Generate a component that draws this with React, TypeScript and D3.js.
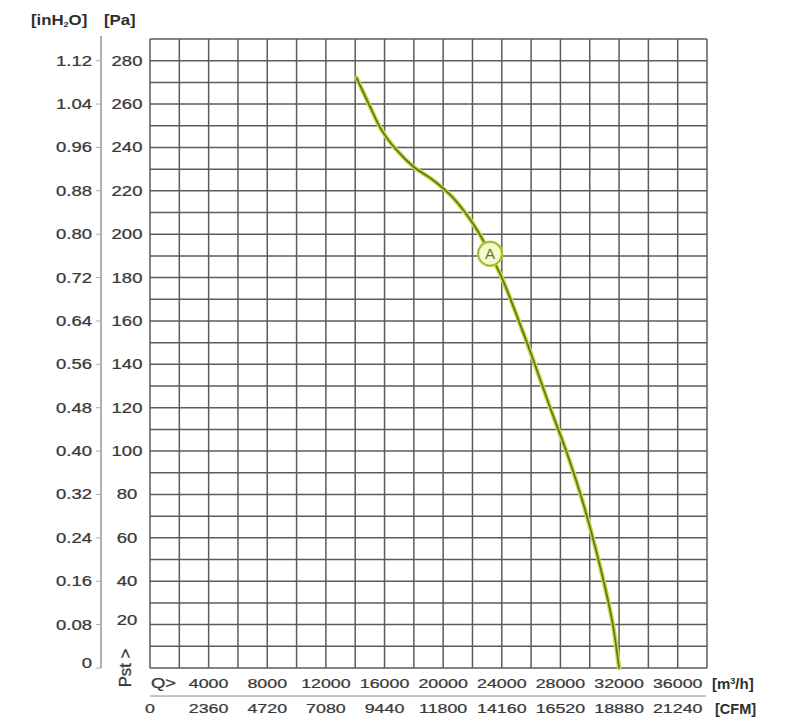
import React from "react";
import * as d3 from "d3";

// fan curve: Q [m3/h] vs Pst [Pa]
const flowQ = [14100, 15000, 15800, 16800, 18000, 19300, 20500, 21500, 22400, 23200, 24000, 25050, 26150, 27300, 28450, 29550, 30700, 31550, 32000];
const pressure = [272, 259, 248, 239, 231, 225, 218, 210, 201, 191, 180, 162, 142, 120, 99, 76, 47, 21, 0];

const pointA = { q: 23200, p: 191, label: "A" };

const qTicks = [4000, 8000, 12000, 16000, 20000, 24000, 28000, 32000, 36000];
const cfmTicks = ["0", "2360", "4720", "7080", "9440", "11800", "14160", "16520", "18880", "21240"];
const paTicks = [280, 260, 240, 220, 200, 180, 160, 140, 120, 100, 80, 60, 40, 20];
const inH2OTicks = ["1.12", "1.04", "0.96", "0.88", "0.80", "0.72", "0.64", "0.56", "0.48", "0.40", "0.32", "0.24", "0.16", "0.08", "0"];

const W = 794;
const H = 723;
const font = "'Liberation Sans', Arial, sans-serif";
const txt = "#383838";
const SX = 1.32; // the scan's lettering is wide

// wide label: stretch glyphs horizontally around its anchor
function T(props: { x: number; y: number; anchor?: string; size?: number; children: React.ReactNode }) {
  const { x, y, anchor = "start", size = 14, children } = props;
  return (
    <text
      transform={`translate(${x},${y}) scale(${SX},1)`}
      fontSize={size}
      textAnchor={anchor}
      fill={txt}
      stroke={txt}
      strokeWidth={0.25}
    >
      {children}
    </text>
  );
}

export default function App() {
  const x = d3.scaleLinear().domain([0, 38000]).range([150, 707]);
  const y = d3.scaleLinear().domain([0, 290]).range([668, 39]);

  const vGrid = d3.range(0, 38001, 2000);
  const hGrid = d3.range(0, 291, 10);

  const pts: [number, number][] = flowQ.map((q, i) => [q, pressure[i]]);
  const line = d3
    .line<[number, number]>()
    .x((d) => x(d[0]))
    .y((d) => y(d[1]))
    .curve(d3.curveCatmullRom.alpha(0.5));
  const path = line(pts) || "";

  const inH2OVals = d3.range(280, -1, -20);

  return (
    <svg
      width={W}
      height={H}
      style={{ position: "absolute", left: 0, top: 0, background: "#fff" }}
      fontFamily={font}
    >
      {/* grid */}
      <g stroke="#5e5a5c" strokeWidth={1.5}>
        {vGrid.map((v) => (
          <line key={"v" + v} x1={x(v)} x2={x(v)} y1={y(290)} y2={y(0)} />
        ))}
        {hGrid.map((v) => (
          <line key={"h" + v} x1={x(0)} x2={x(38000)} y1={y(v)} y2={y(v)} />
        ))}
      </g>

      {/* header */}
      <text
        transform="translate(31,25) scale(1.12,1)"
        fontSize={15}
        fontWeight="bold"
        fill="#2e2e2e"
      >
        [inH<tspan fontSize={8} dy={2}>2</tspan>
        <tspan dy={-2}>O]</tspan>
      </text>
      <text transform="translate(104,25) scale(1.12,1)" fontSize={15} fontWeight="bold" fill="#2e2e2e">
        [Pa]
      </text>

      {/* left axis */}
      <line x1={101} x2={101} y1={36} y2={668} stroke="#7a7a7a" strokeWidth={1.2} />
      {inH2OVals.map((v) => (
        <line key={"t" + v} x1={96} x2={101} y1={y(v)} y2={y(v)} stroke="#aaa" strokeWidth={1} />
      ))}
      {inH2OTicks.map((t, i) => (
        <T key={"in" + t} x={92} y={y(inH2OVals[i]) + (i === inH2OTicks.length - 1 ? 0 : 5)} anchor="end">
          {t}
        </T>
      ))}
      {paTicks.map((v) => (
        <T key={"pa" + v} x={127} y={y(v) + (v === 20 ? 0 : 5)} anchor="middle">
          {v}
        </T>
      ))}
      <text
        transform={`translate(131, 668) rotate(-90) scale(1.2,1.15)`}
        fontSize={14}
        textAnchor="middle"
        fill={txt}
        stroke={txt}
        strokeWidth={0.25}
      >
        Pst &gt;
      </text>

      {/* bottom axes */}
      <T x={151} y={688}>Q&gt;</T>
      {qTicks.map((q) => (
        <T key={"q" + q} x={x(q)} y={688} anchor="middle" size={13.5}>
          {q}
        </T>
      ))}
      <line x1={150} x2={706} y1={696} y2={696} stroke="#8a8a8a" strokeWidth={1} />
      {cfmTicks.map((c, i) => (
        <T key={"c" + c} x={x(i * 4000)} y={713} anchor="middle" size={13.5}>
          {c}
        </T>
      ))}
      <text x={712} y={689} fontSize={15} fontWeight="bold" fill="#2e2e2e">
        [m<tspan fontSize={9} dy={-5}>3</tspan>
        <tspan dy={5}>/h]</tspan>
      </text>
      <text x={715} y={714} fontSize={14.5} fontWeight="bold" fill="#2e2e2e">
        [CFM]
      </text>

      {/* curve */}
      <path d={path} fill="none" stroke="#c9dc4c" strokeWidth={4.5} strokeLinecap="round" />
      <path d={path} fill="none" stroke="#5f7a1e" strokeWidth={1.8} strokeLinecap="round" />

      {/* operating point */}
      <circle cx={x(pointA.q)} cy={y(pointA.p)} r={12} fill="#f6f8cf" stroke="#c2d640" strokeWidth={2.5} />
      <circle cx={x(pointA.q)} cy={y(pointA.p)} r={12} fill="none" stroke="#7d962a" strokeWidth={0.8} />
      <text
        x={x(pointA.q)}
        y={y(pointA.p) + 5.5}
        fontSize={15}
        textAnchor="middle"
        fill="#5f7a1e"
      >
        {pointA.label}
      </text>
    </svg>
  );
}
